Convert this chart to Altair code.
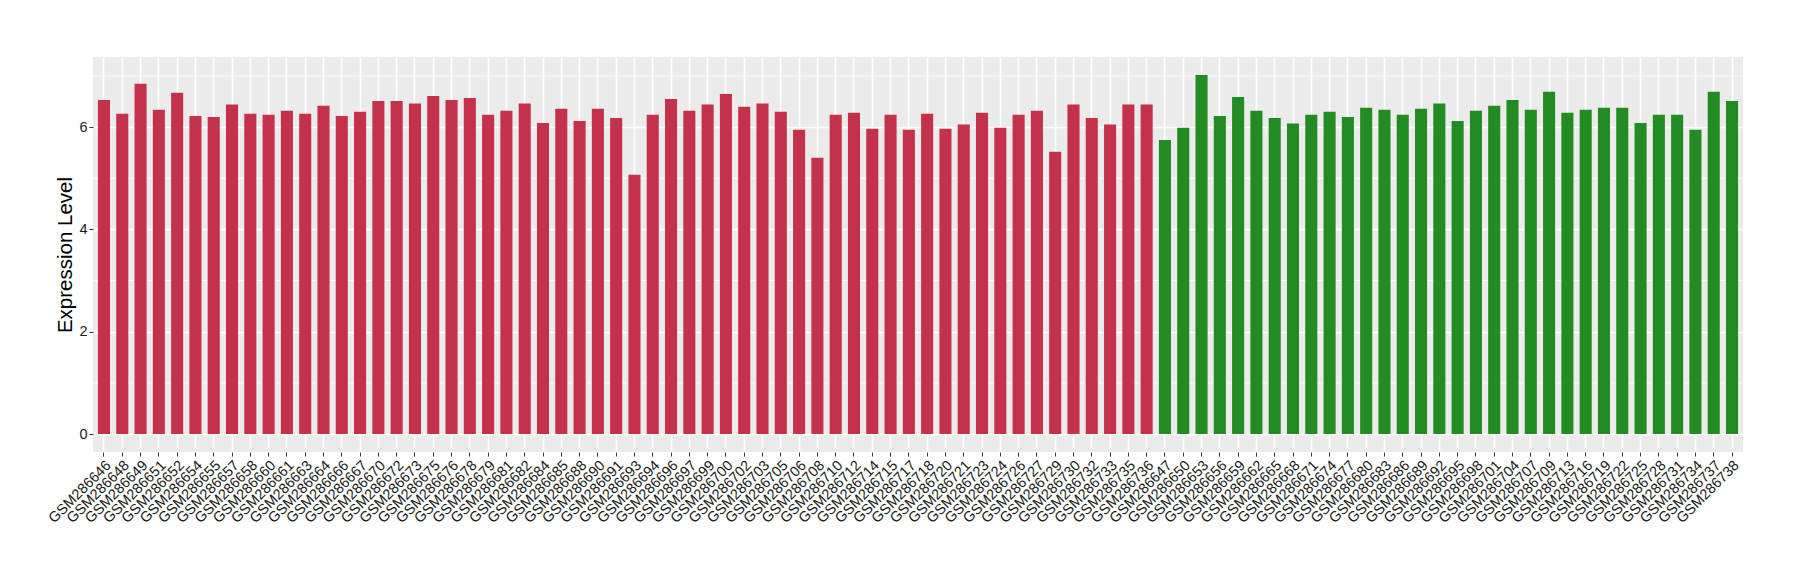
import altair as alt
import pandas as pd

red_samples = ["GSM286646", "GSM286648", "GSM286649", "GSM286651", "GSM286652", "GSM286654",
               "GSM286655", "GSM286657", "GSM286658", "GSM286660", "GSM286661", "GSM286663",
               "GSM286664", "GSM286666", "GSM286667", "GSM286670", "GSM286672", "GSM286673",
               "GSM286675", "GSM286676", "GSM286678", "GSM286679", "GSM286681", "GSM286682",
               "GSM286684", "GSM286685", "GSM286688", "GSM286690", "GSM286691", "GSM286693",
               "GSM286694", "GSM286696", "GSM286697", "GSM286699", "GSM286700", "GSM286702",
               "GSM286703", "GSM286705", "GSM286706", "GSM286708", "GSM286710", "GSM286712",
               "GSM286714", "GSM286715", "GSM286717", "GSM286718", "GSM286720", "GSM286721",
               "GSM286723", "GSM286724", "GSM286726", "GSM286727", "GSM286729", "GSM286730",
               "GSM286732", "GSM286733", "GSM286735", "GSM286736"]
red_values = [6.53, 6.26, 6.85, 6.34, 6.67, 6.22, 6.20, 6.44, 6.26, 6.24, 6.32, 6.26,
              6.42, 6.22, 6.30, 6.51, 6.51, 6.46, 6.61, 6.53, 6.57, 6.24, 6.32, 6.46,
              6.08, 6.36, 6.12, 6.36, 6.18, 5.07, 6.24, 6.55, 6.32, 6.44, 6.65, 6.40,
              6.46, 6.30, 5.95, 5.40, 6.24, 6.28, 5.97, 6.24, 5.95, 6.26, 5.97, 6.05,
              6.28, 5.99, 6.24, 6.32, 5.52, 6.44, 6.18, 6.05, 6.44, 6.44]

green_samples = ["GSM286647", "GSM286650", "GSM286653", "GSM286656", "GSM286659", "GSM286662",
                 "GSM286665", "GSM286668", "GSM286671", "GSM286674", "GSM286677", "GSM286680",
                 "GSM286683", "GSM286686", "GSM286689", "GSM286692", "GSM286695", "GSM286698",
                 "GSM286701", "GSM286704", "GSM286707", "GSM286709", "GSM286713", "GSM286716",
                 "GSM286719", "GSM286722", "GSM286725", "GSM286728", "GSM286731", "GSM286734",
                 "GSM286737", "GSM286738"]
green_values = [5.75, 5.99, 7.02, 6.22, 6.59, 6.32, 6.18, 6.07, 6.24, 6.30, 6.20, 6.38,
                6.34, 6.24, 6.36, 6.46, 6.12, 6.32, 6.42, 6.53, 6.34, 6.69, 6.28, 6.34,
                6.38, 6.38, 6.08, 6.24, 6.24, 5.95, 6.69, 6.51]

y_major = [0, 2, 4, 6]
y_minor = [1, 3, 5, 7]

samples = red_samples + green_samples
df = pd.DataFrame({
    "sample": samples,
    "value": red_values + green_values,
    "group": ["red"] * len(red_samples) + ["green"] * len(green_samples),
})
minor_df = pd.DataFrame({"v": y_minor})

ymax = max(red_values + green_values)
ydom = [-0.05 * ymax, ymax * 1.05]

FONT = "Liberation Sans"

x_enc = alt.X("sample:N", sort=samples,
              scale=alt.Scale(paddingInner=0.34, paddingOuter=0.27),
              axis=alt.Axis(title=None, labelAngle=-45, labelAlign="right",
                            labelBaseline="top", labelFontSize=14.5, labelFont=FONT,
                            labelColor="#1A1A1A", labelPadding=2, tickSize=4,
                            tickColor="#333333", tickWidth=1, domain=False,
                            grid=True, gridColor="#FFFFFF", gridWidth=1.6,
                            bandPosition=0.5, labelOverlap=False, labelLimit=200))
y_scale = alt.Scale(domain=ydom, nice=False, zero=False)

minor = alt.Chart(minor_df).mark_rule(color="#FFFFFF", strokeWidth=0.8).encode(
    y=alt.Y("v:Q", scale=y_scale),
)

bars = alt.Chart(df).mark_bar().encode(
    x=x_enc,
    y=alt.Y("value:Q", scale=y_scale,
            axis=alt.Axis(title="Expression Level", values=y_major, format="d",
                          labelFontSize=14.5, labelFont=FONT, labelColor="#1A1A1A",
                          labelPadding=2, tickSize=4, tickColor="#333333", tickWidth=1,
                          domain=False, grid=True, gridColor="#FFFFFF", gridWidth=1.6,
                          titleFont=FONT, titleFontSize=20.5, titleFontWeight="normal",
                          titleColor="#000000", titleX=-22, titleBaseline="alphabetic")),
    y2=alt.datum(0),
    color=alt.Color("group:N", scale=alt.Scale(domain=["red", "green"],
                                               range=["#C3314A", "#228B22"]),
                    legend=None),
)

chart = alt.layer(minor, bars).properties(
    width=1650, height=395,
    autosize=alt.AutoSizeParams(type="none"),
    padding={"left": 85, "top": 49, "right": 40, "bottom": 110},
    background="#FFFFFF",
).configure_view(fill="#EBEBEB", stroke=None)

chart.save("out.html", embed_options={"renderer": "svg", "actions": False})
